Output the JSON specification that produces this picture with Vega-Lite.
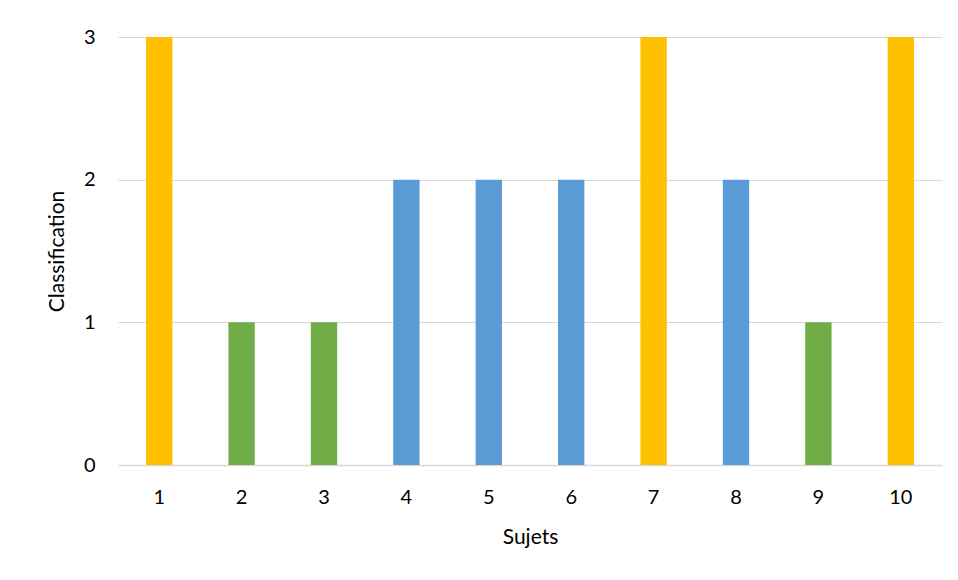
{
  "$schema": "https://vega.github.io/schema/vega-lite/v6.json",
  "autosize": "none",
  "width": 824,
  "height": 428,
  "padding": {"left": 118, "top": 37, "right": 16, "bottom": 115},
  "background": "white",
  "data": {"values": [
    {"sujet": "1", "classification": 3},
    {"sujet": "2", "classification": 1},
    {"sujet": "3", "classification": 1},
    {"sujet": "4", "classification": 2},
    {"sujet": "5", "classification": 2},
    {"sujet": "6", "classification": 2},
    {"sujet": "7", "classification": 3},
    {"sujet": "8", "classification": 2},
    {"sujet": "9", "classification": 1},
    {"sujet": "10", "classification": 3}
  ]},
  "config": {
    "view": {"stroke": null},
    "font": "Lato",
    "axis": {"labelFont": "Lato", "titleFont": "Lato", "labelColor": "#000000", "titleColor": "#000000", "titleFontWeight": "normal"}
  },
  "mark": {"type": "bar"},
  "encoding": {
    "x": {
      "field": "sujet", "type": "ordinal", "sort": null,
      "scale": {"paddingInner": 0.68, "paddingOuter": 0.34},
      "axis": {"title": "Sujets", "labelAngle": 0, "labelFontSize": 20, "titleFontSize": 21, "labelPadding": 22, "titlePadding": 19, "ticks": false, "domainColor": "#D9D9D9", "domainWidth": 1.5}
    },
    "y": {
      "field": "classification", "type": "quantitative",
      "scale": {"domain": [0, 3]},
      "axis": {"title": "Classification", "values": [0, 1, 2, 3], "format": "d", "labelFontSize": 20, "titleFontSize": 21, "labelPadding": 23, "titlePadding": 16, "ticks": false, "domain": false, "gridColor": "#D9D9D9", "gridWidth": 1.2}
    },
    "color": {
      "field": "classification", "type": "nominal",
      "scale": {"domain": [1, 2, 3], "range": ["#70AD47", "#5B9BD5", "#FFC000"]},
      "legend": null
    }
  }
}
